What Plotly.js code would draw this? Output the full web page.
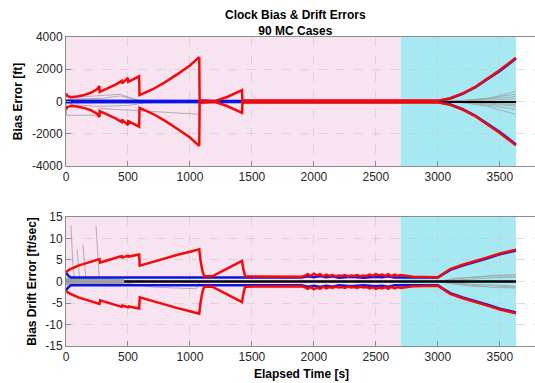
<!DOCTYPE html>
<html>
<head>
<meta charset="utf-8">
<script src="https://cdn.plot.ly/plotly-3.0.1.min.js"></script>
<style>
html,body{margin:0;padding:0;overflow:hidden;background:#fff;}
#chart{width:538px;height:383px;}
</style>
</head>
<body>
<div id="chart"></div>
<script>
// ---------- Data ----------
const xTicks = [0, 500, 1000, 1500, 2000, 2500, 3000, 3500];
const biasTicks = [-4000, -2000, 0, 2000, 4000];
const driftTicks = [-15, -10, -5, 0, 5, 10, 15];

// phases (background regions)
const phaseStart = [0, 2700];
const phaseEnd = [2700, 3630];
const phaseColors = ['#f8e3f0', '#a6e9f3'];

// Top: filter 3-sigma (red), symmetric
const biasRedT = [0, 10, 40, 100, 150, 200, 250, 270, 272, 350, 400, 450, 452, 500, 502, 590, 593, 700, 800, 900, 1000, 1075, 1078, 1140, 1200, 1300, 1420, 1423, 1500, 2000, 2500, 3000, 3100, 3200, 3300, 3400, 3500, 3630];
const biasRedV = [500, 350, 270, 320, 410, 540, 760, 960, 600, 850, 1050, 1280, 1120, 1460, 1220, 1560, 400, 760, 1200, 1700, 2230, 2750, 70, 50, 20, 280, 700, 55, 55, 55, 55, 55, 200, 500, 900, 1400, 1950, 2720];
// Top: sample 3-sigma (blue)
const biasBlueT = [0, 1420, 1500, 3000, 3100, 3200, 3300, 3400, 3500, 3630];
const biasBlueV = [45, 45, 25, 25, 185, 480, 870, 1360, 1900, 2660];
// Top: mean (black)
const biasMeanT = [0, 1000, 2000, 3000, 3300, 3630];
const biasMeanV = [0, 0, 0, 0, -10, -20];

// Top: a selection of the Monte Carlo cases (gray)
const biasCaseA_T = [0, 30, 200, 440, 600, 1080];
const biasCaseA_V = [0, 250, 330, 450, 0, 0];
const biasCaseB_T = [0, 5, 250, 270, 1075, 1080];
const biasCaseB_V = [0, -850, -850, -430, -790, 0];
const biasCaseC_T = [0, 40, 300, 440, 600, 800];
const biasCaseC_V = [0, 150, 200, 350, 50, 0];
const biasCaseD_T = [0, 60, 250, 500, 700];
const biasCaseD_V = [0, -200, -300, -250, 0];
const biasLateT = [3000, 3200, 3400, 3630];
const biasLate1 = [0, 60, 200, 450];
const biasLate2 = [0, 40, 150, 300];
const biasLate3 = [0, 20, 80, 150];
const biasLate4 = [0, -20, -60, -100];
const biasLate5 = [0, -40, -150, -300];
const biasLate6 = [0, -60, -220, -500];
const biasLate7 = [0, -80, -300, -800];
const biasLate8 = [0, 50, 180, 620];
const biasLate9 = [0, -30, -100, -200];

// Bottom: filter 3-sigma (red), symmetric
const driftRedT = [0, 30, 100, 200, 270, 275, 350, 450, 455, 500, 505, 590, 595, 700, 800, 900, 1000, 1075, 1085, 1100, 1115, 1180, 1300, 1420, 1430, 1445, 1900,
  1925, 1950, 1975, 2000, 2025, 2050, 2075, 2100, 2125, 2150, 2175, 2200, 2225, 2250, 2275, 2300, 2325, 2350, 2375, 2400, 2425, 2450, 2475, 2500, 2525, 2550, 2575, 2600, 2625, 2650, 2675, 2700,
  2800, 3000, 3050, 3100, 3200, 3300, 3400, 3500, 3630];
const driftRedV = [2.2, 2.8, 3.7, 4.6, 5.2, 4.4, 5.1, 5.9, 5.6, 6.0, 5.8, 6.3, 3.7, 4.6, 5.4, 6.2, 6.9, 7.5, 5.0, 2.5, 1.2, 1.2, 3.0, 4.8, 3.0, 1.2, 1.1,
  1.3, 1.7, 1.3, 1.8, 1.4, 1.7, 1.2, 1.6, 1.3, 1.5, 1.2, 1.4, 1.3, 1.5, 1.2, 1.4, 1.3, 1.5, 1.2, 1.4, 1.3, 1.6, 1.3, 1.7, 1.4, 1.6, 1.3, 1.7, 1.2, 1.6, 1.3, 1.5,
  1.1, 1.0, 2.0, 2.9, 3.9, 4.7, 5.6, 6.5, 7.4];
// Bottom: sample 3-sigma (blue)
const driftBlueT = [0, 20, 40, 1900, 1950, 2000, 2050, 2100, 2150, 2200, 2300, 2400, 2500, 2550, 2600, 2650, 2700, 3000, 3050, 3100, 3200, 3300, 3400, 3500, 3630];
const driftBlueV = [2.0, 1.3, 0.9, 0.9, 1.2, 1.0, 1.3, 1.0, 1.2, 0.9, 1.1, 0.9, 1.1, 1.0, 1.2, 0.9, 0.9, 0.9, 1.8, 2.7, 3.7, 4.5, 5.4, 6.3, 7.2];
// Bottom: mean (black)
const driftMeanT = [0, 1000, 2000, 3000, 3300, 3630];
const driftMeanV = [0, 0, 0.05, 0, -0.05, 0];

// Bottom: initial spread of the cases (gray band) and some cases
const driftBandT = [0, 100, 200, 300, 400, 470];
const driftBandV = [0.8, 0.7, 0.7, 0.6, 0.6, 0.5];
const driftSpike1T = [40, 48, 57, 75];
const driftSpike1V = [13, 8, 3, 0];
const driftSpike2T = [89, 97, 105, 112];
const driftSpike2V = [7.5, 4, 1.5, 0];
const driftSpike3T = [137, 145, 153, 162];
const driftSpike3V = [8.5, 5, 2, 0];
const driftSpike4T = [242, 250, 260, 270];
const driftSpike4V = [13, 9, 3, 0];
const driftCaseA_T = [470, 700, 1050, 1080];
const driftCaseA_V = [-0.3, -1.3, -1.7, 0];
const driftLateT = [3000, 3150, 3300, 3450, 3630];
const driftLate1 = [0, 0.6, 1.1, 1.3, 1.2];
const driftLate2 = [0, -0.5, -1.0, -1.4, -1.5];
const driftLate3 = [0, 0.3, 0.6, 0.9, 1.0];
const driftLate4 = [0, -0.3, -0.7, -0.8, -1.1];
const driftLate5 = [0, 0.8, 0.9, 1.4, 1.6];
const driftLate6 = [0, -0.7, -1.2, -1.0, -1.3];

// ---------- Build traces ----------
const neg = a => a.map(v => -v);
const GRAY = '#a0a0a0';
const traces = [];
function gray(t, v, xa, ya) {
  traces.push({x: t, y: v, xaxis: xa, yaxis: ya, mode: 'lines', line: {color: GRAY, width: 0.8}, hoverinfo: 'skip'});
}
// top gray
[[biasCaseA_T, biasCaseA_V], [biasCaseB_T, biasCaseB_V], [biasCaseC_T, biasCaseC_V], [biasCaseD_T, biasCaseD_V]]
  .forEach(p => gray(p[0], p[1], 'x', 'y'));
[biasLate1, biasLate2, biasLate3, biasLate4, biasLate5, biasLate6, biasLate7, biasLate8, biasLate9]
  .forEach(v => gray(biasLateT, v, 'x', 'y'));
// top mean, blue, red
traces.push({x: biasMeanT, y: biasMeanV, xaxis: 'x', yaxis: 'y', mode: 'lines', line: {color: '#000', width: 2.5}});
traces.push({x: biasBlueT, y: biasBlueV, xaxis: 'x', yaxis: 'y', mode: 'lines', line: {color: '#0a14e6', width: 2.5}});
traces.push({x: biasBlueT, y: neg(biasBlueV), xaxis: 'x', yaxis: 'y', mode: 'lines', line: {color: '#0a14e6', width: 2.5}});
traces.push({x: biasRedT, y: biasRedV, xaxis: 'x', yaxis: 'y', mode: 'lines', line: {color: '#f50a0a', width: 2.5}});
traces.push({x: biasRedT, y: neg(biasRedV), xaxis: 'x', yaxis: 'y', mode: 'lines', line: {color: '#f50a0a', width: 2.5}});

// bottom gray
[[driftSpike1T, driftSpike1V], [driftSpike2T, driftSpike2V], [driftSpike3T, driftSpike3V], [driftSpike4T, driftSpike4V], [driftCaseA_T, driftCaseA_V]]
  .forEach(p => gray(p[0], p[1], 'x2', 'y2'));
[driftLate1, driftLate2, driftLate3, driftLate4, driftLate5, driftLate6]
  .forEach(v => gray(driftLateT, v, 'x2', 'y2'));
traces.push({x: driftMeanT, y: driftMeanV, xaxis: 'x2', yaxis: 'y2', mode: 'lines', line: {color: '#000', width: 2.5}});
// gray band of the cases at the start
traces.push({x: driftBandT, y: neg(driftBandV), xaxis: 'x2', yaxis: 'y2', mode: 'lines', line: {color: GRAY, width: 0.8}, hoverinfo: 'skip'});
traces.push({x: driftBandT, y: driftBandV, xaxis: 'x2', yaxis: 'y2', mode: 'lines', fill: 'tonexty', fillcolor: GRAY, line: {color: GRAY, width: 0.8}, hoverinfo: 'skip'});
traces.push({x: driftBlueT, y: driftBlueV, xaxis: 'x2', yaxis: 'y2', mode: 'lines', line: {color: '#0a14e6', width: 2.5}});
traces.push({x: driftBlueT, y: neg(driftBlueV), xaxis: 'x2', yaxis: 'y2', mode: 'lines', line: {color: '#0a14e6', width: 2.5}});
traces.push({x: driftRedT, y: driftRedV, xaxis: 'x2', yaxis: 'y2', mode: 'lines', line: {color: '#f50a0a', width: 2.5}});
traces.push({x: driftRedT, y: neg(driftRedV), xaxis: 'x2', yaxis: 'y2', mode: 'lines', line: {color: '#f50a0a', width: 2.5}});

// ---------- Background shapes ----------
const shapes = [];
['y', 'y2'].forEach((ya, k) => {
  const xa = k === 0 ? 'x' : 'x2';
  phaseStart.forEach((s, i) => {
    shapes.push({type: 'rect', xref: xa, yref: ya + ' domain', x0: s, x1: phaseEnd[i], y0: 0, y1: 1,
      fillcolor: phaseColors[i], line: {width: 0}, layer: 'below'});
  });
});

const FONT = 'Liberation Sans, Arial, sans-serif';
const axisCommon = {
  showline: true, linecolor: '#8c8c8c', linewidth: 1, mirror: true,
  ticks: 'inside', ticklen: 5, tickcolor: '#8c8c8c',
  showgrid: true, gridcolor: '#c8c8c8', griddash: 'dash', gridwidth: 0.6,
  zeroline: false, tickfont: {family: FONT, size: 12, color: '#262626'}
};
const xCommon = Object.assign({}, axisCommon, {range: [0, 3800], tickvals: xTicks, ticktext: xTicks.map(String)});

const layout = {
  width: 538, height: 383,
  margin: {l: 66, r: 1, t: 37, b: 37},
  paper_bgcolor: '#ffffff', plot_bgcolor: 'rgba(0,0,0,0)',
  showlegend: false,
  annotations: [{
    text: '<b>Clock Bias & Drift Errors</b><br><b>90 MC Cases</b>',
    font: {family: FONT, size: 12, color: '#000'},
    xref: 'paper', yref: 'paper', x: (295 - 66) / 471, y: 1 + (37 - 23) / 309,
    xanchor: 'center', yanchor: 'middle', showarrow: false
  }],
  xaxis: Object.assign({}, xCommon, {domain: [0, 1], anchor: 'y'}),
  yaxis: Object.assign({}, axisCommon, {domain: [0.5825, 1], range: [-4000, 4000], tickvals: biasTicks, ticktext: biasTicks.map(String), anchor: 'x',
    title: {text: '<b>Bias Error [ft]</b>', font: {family: FONT, size: 12, color: '#000'}, standoff: 6}}),
  xaxis2: Object.assign({}, xCommon, {domain: [0, 1], anchor: 'y2',
    title: {text: '<b>Elapsed Time [s]</b>', font: {family: FONT, size: 12, color: '#000'}, standoff: 6}}),
  yaxis2: Object.assign({}, axisCommon, {domain: [0, 0.4175], range: [-15, 15], tickvals: driftTicks, ticktext: driftTicks.map(String), anchor: 'x2',
    title: {text: '<b>Bias Drift Error [ft/sec]</b>', font: {family: FONT, size: 12, color: '#000'}, standoff: 6}}),
  shapes: shapes
};

Plotly.newPlot('chart', traces, layout, {displayModeBar: false, staticPlot: true});
</script>
</body>
</html>
